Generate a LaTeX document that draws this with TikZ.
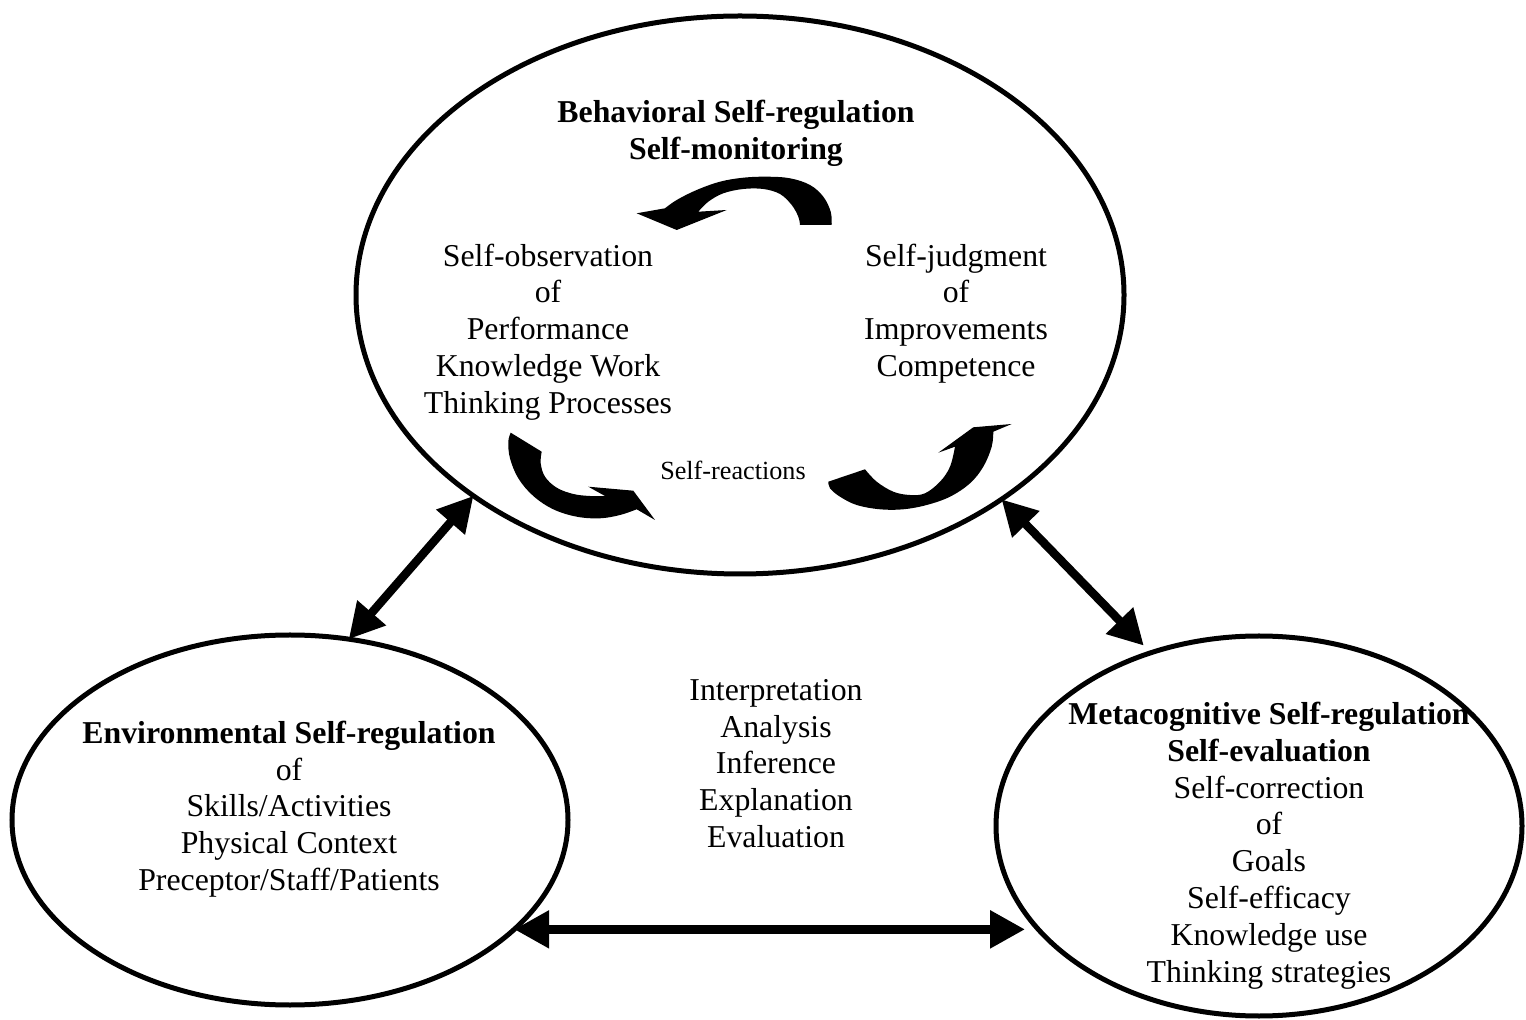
\documentclass[tikz,border=0pt]{standalone}
\usepackage{fontspec}
\setmainfont{Liberation Serif}
\usetikzlibrary{shapes.geometric,arrows.meta}
\begin{document}
\begin{tikzpicture}[x=0.5pt,y=-0.5pt,
  oval/.style={ellipse,draw,line width=2.5pt,inner sep=0pt,outer sep=0pt},
  txt/.style={align=center,inner sep=0pt,font=\fontsize{15.9}{18.4}\selectfont},
  small/.style={inner sep=0pt,font=\fontsize{13.1}{15}\selectfont},
  dbl/.style={line width=4.25pt,{Triangle[length=17.5pt,width=18pt]}-{Triangle[length=17.5pt,width=18pt]}},
  blockarrow/.style={fill=black}]
\useasboundingbox (0,0) rectangle (1526,1020);
% ellipses
\node[oval,minimum width=384pt,minimum height=279pt] (beh) at (740,295) {};
\node[oval,minimum width=278pt,minimum height=185pt] (env) at (290,820) {};
\node[oval,minimum width=263pt,minimum height=190pt] (met) at (1259,826) {};
% texts
\node[txt] (behT) at (736,133.5) {\textbf{Behavioral Self-regulation}\\\textbf{Self-monitoring}};
\node[txt] (obs) at (548,332) {Self-observation\\of\\Performance\\Knowledge Work\\Thinking Processes};
\node[txt] (jud) at (956,313.5) {Self-judgment\\of\\Improvements\\Competence};
\node[small] (react) at (733,470) {Self-reactions};
\node[txt] (mid) at (776,763.5) {Interpretation\\Analysis\\Inference\\Explanation\\Evaluation};
\node[txt] (envT) at (289,809) {\textbf{Environmental Self-regulation}\\of\\Skills/Activities\\Physical Context\\Preceptor/Staff/Patients};
\node[txt] (metT) at (1269,845.5) {\textbf{Metacognitive Self-regulation}\\\textbf{Self-evaluation}\\Self-correction\\of\\Goals\\Self-efficacy\\Knowledge use\\Thinking strategies};
% double arrows
\draw[dbl] (env.72) -- (beh.217.3);
\draw[dbl,shorten >=5pt] (beh.-38.5) -- (met.122.9);
\draw[dbl,shorten >=6.5pt] (env.-26.5) -- (met.205.6 |- env.-26.5);
% curved block arrows
\fill[blockarrow] plot[smooth,tension=0.6] coordinates {(831.7,225) (830.7,211.7) (823.3,196.7) (810,185) (790,178.3) (766.7,176.7) (743.3,177.7) (720,181.7) (696.7,190) (676.7,200) (665,208.3)}
  -- (636.7,213.3) -- (676.7,230) -- (726.7,210) -- (698.3,211.7)
  -- plot[smooth,tension=0.6] coordinates {(698.3,211.7) (708.3,201.7) (723.3,193.3) (743.3,189) (763.3,189) (780,194) (791.7,205) (798.3,216.7) (800,225)}
  -- cycle;
\fill[blockarrow] (510.7,432.7) -- (541.7,451.7)
  -- plot[smooth,tension=0.6] coordinates {(541.7,451.7) (540.7,463.3) (545,476.7) (556.7,487.7) (573.3,494) (590,496) (605,496)}
  -- (588.3,486.7) -- (633.3,490.7) -- (655,520) -- (636.7,509.3)
  -- plot[smooth,tension=0.6] coordinates {(636.7,509.3) (620,515) (600,518.3) (576.7,516.7) (553.3,509.3) (533.3,496) (518.3,478.3) (510,458.3) (508.3,441.7) (510.7,432.7)}
  -- cycle;
\fill[blockarrow] (828.3,481.7) -- (865,469.3)
  -- plot[smooth,tension=0.6] coordinates {(865,469.3) (876.7,481.7) (893.3,491.7) (910,495) (925,493.3) (940,481.7) (950,466.7) (955,446.7)}
  -- (938.3,452.7) -- (973.3,427.3) -- (1011.7,424) -- (993.3,431.7)
  -- plot[smooth,tension=0.6] coordinates {(993.3,431.7) (991.7,446.7) (983.3,466.7) (970,483.3) (950,496.7) (926.7,505) (903.3,509.3) (880,509.3) (856.7,505) (840,496.7) (830,488.3) (828.3,481.7)}
  -- cycle;
\end{tikzpicture}
\end{document}
